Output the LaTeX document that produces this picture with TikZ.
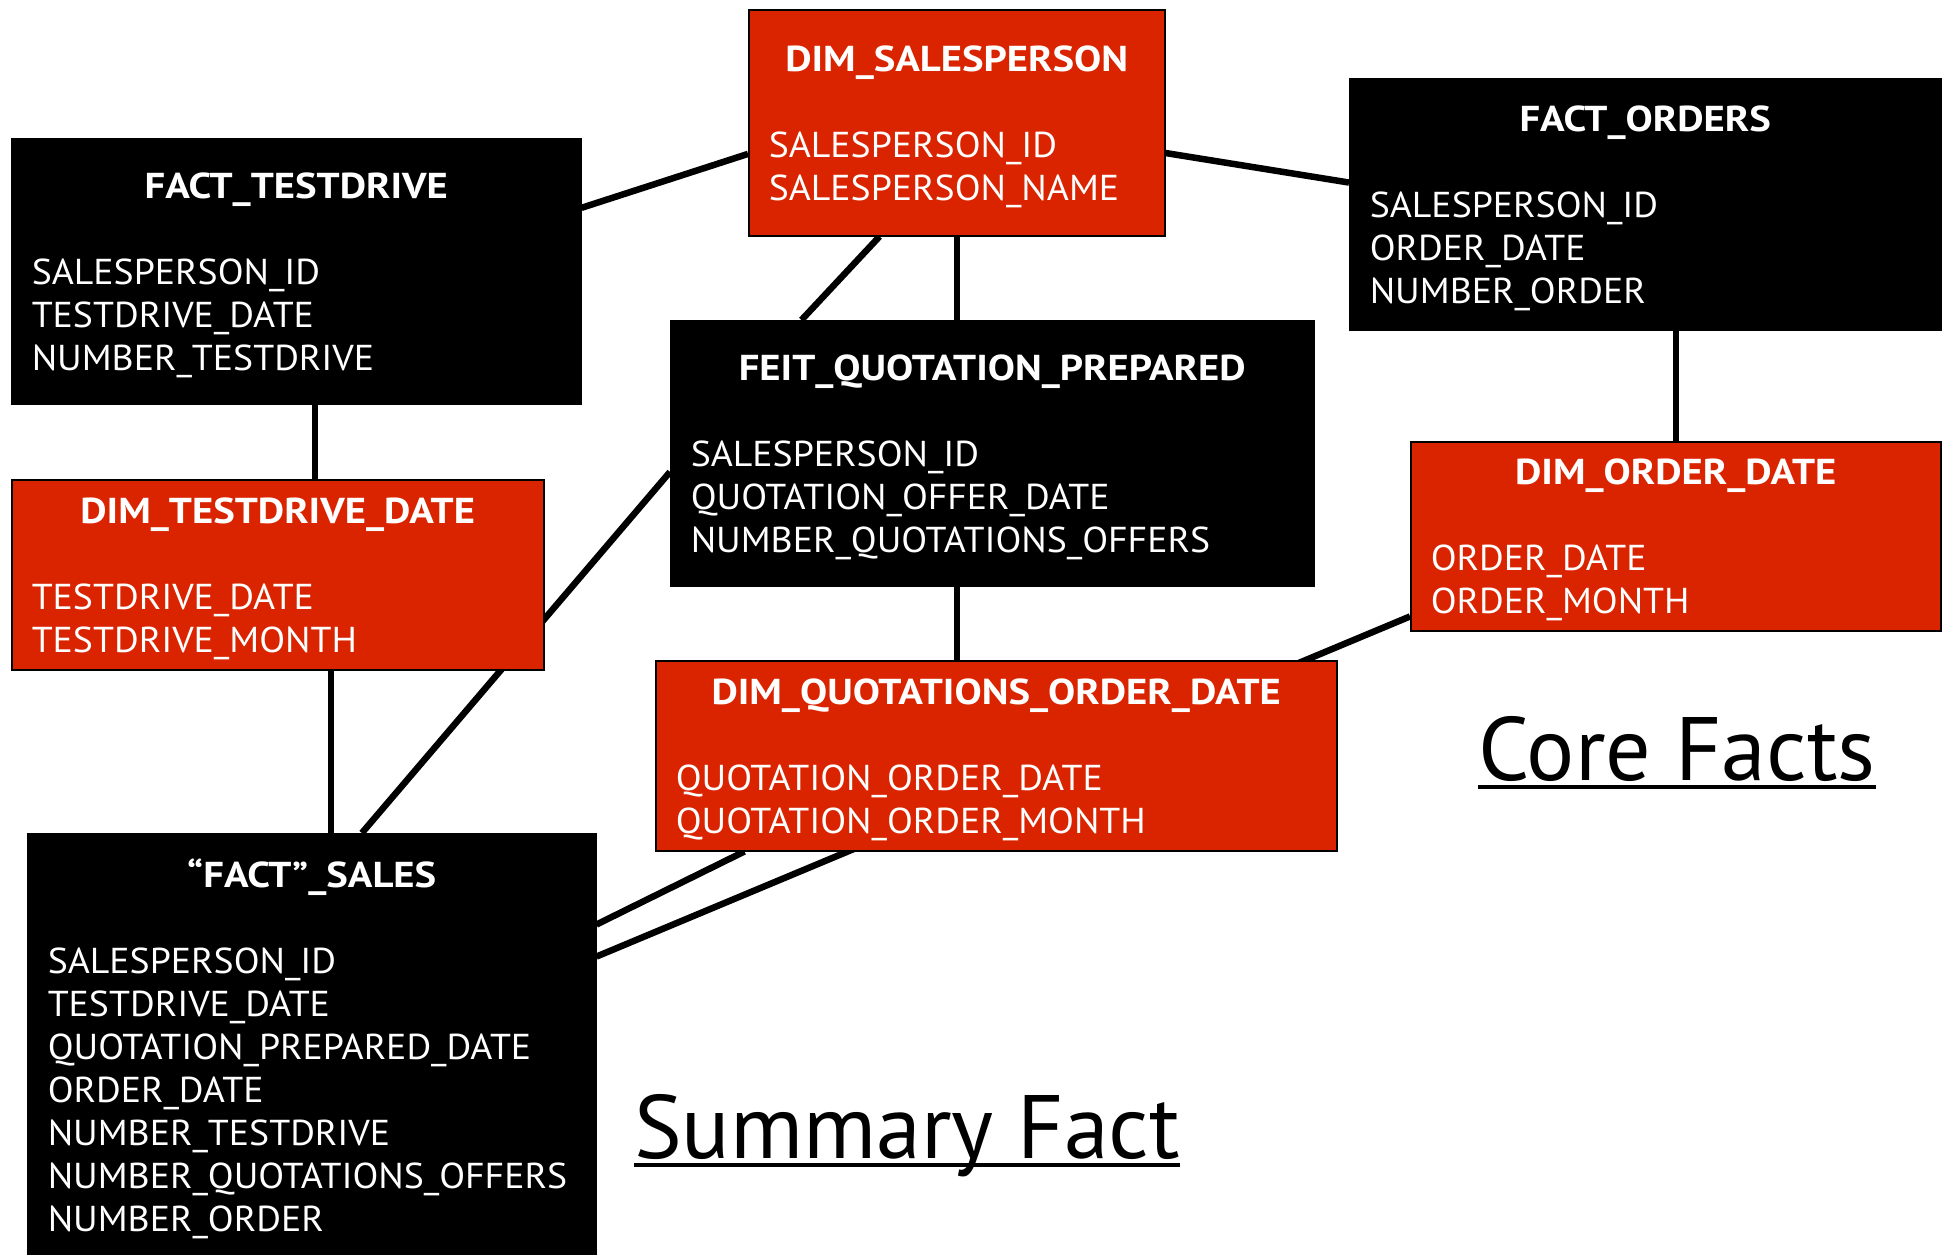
\documentclass[tikz,border=0pt]{standalone}
\usepackage{fontspec}
\setmainfont{PT Sans}[FakeStretch=1.05, BoldFeatures={FakeStretch=1.13}]
\newfontfamily\areafont{PT Sans}
\usetikzlibrary{calc,backgrounds}
\definecolor{dimred}{RGB}{218,36,0}
\newcommand\etitle[1]{\makebox[\linewidth]{\rule{0pt}{33pt}\bfseries #1}}

\begin{document}
\begin{tikzpicture}[
  x=1pt, y=-1pt,
  entity/.style={draw=black, line width=1.5pt, text=white, anchor=north west,
    inner xsep=20pt, inner ysep=0pt, align=left,
    font=\fontsize{36}{43}\selectfont},
  factbox/.style={entity, fill=black},
  dimbox/.style={entity, fill=dimred},
  link/.style={line width=6.5pt},
  areatitle/.style={inner sep=0pt, anchor=base, font=\areafont\fontsize{90}{100}\selectfont}
]
\clip (0,0) rectangle (1952,1254);

% tables
\node[dimbox, text width=376pt, minimum height=226pt] (sp) at (748,9)
  {\etitle{DIM\_SALESPERSON}\\[43pt] SALESPERSON\_ID\\ SALESPERSON\_NAME};
\node[factbox, text width=529pt, minimum height=265pt] (td) at (11,138)
  {\etitle{FACT\_TESTDRIVE}\\[43pt] SALESPERSON\_ID\\ TESTDRIVE\_DATE\\ NUMBER\_TESTDRIVE};
\node[factbox, text width=551pt, minimum height=251pt] (fo) at (1349,78)
  {\etitle{FACT\_ORDERS}\\[43pt] SALESPERSON\_ID\\ ORDER\_DATE\\ NUMBER\_ORDER};
\node[factbox, text width=603pt, minimum height=265pt] (qp) at (670,320)
  {\etitle{FEIT\_QUOTATION\_PREPARED}\\[43pt] SALESPERSON\_ID\\ QUOTATION\_OFFER\_DATE\\ NUMBER\_QUOTATIONS\_OFFERS};
\node[dimbox, text width=492pt, minimum height=190pt] (tdd) at (11,479)
  {\etitle{DIM\_TESTDRIVE\_DATE}\\[43pt] TESTDRIVE\_DATE\\ TESTDRIVE\_MONTH};
\node[dimbox, text width=490pt, minimum height=189pt] (od) at (1410,441)
  {\etitle{DIM\_ORDER\_DATE}\\[43pt] ORDER\_DATE\\ ORDER\_MONTH};
\node[dimbox, text width=641pt, minimum height=190pt] (qod) at (655,660)
  {\etitle{DIM\_QUOTATIONS\_ORDER\_DATE}\\[43pt] QUOTATION\_ORDER\_DATE\\ QUOTATION\_ORDER\_MONTH};
\node[factbox, text width=528pt, minimum height=426pt] (fs) at (27,833)
  {\etitle{“FACT”\_SALES}\\[43pt] SALESPERSON\_ID\\ TESTDRIVE\_DATE\\ QUOTATION\_PREPARED\_DATE\\
   ORDER\_DATE\\ NUMBER\_TESTDRIVE\\ NUMBER\_QUOTATIONS\_OFFERS\\ NUMBER\_ORDER};

% area titles
\node[areatitle] (core) at (1677,780) {Core Facts};
\node[areatitle] (summary) at (907,1158) {Summary Fact};
\draw[line width=4pt] ([yshift=-7pt]core.base west) -- ([yshift=-7pt]core.base east);
\draw[line width=4pt] ([yshift=-7pt]summary.base west) -- ([yshift=-7pt]summary.base east);

% links
\coordinate (tdlink) at ($(td.south west)!0.533!(td.south east)$);
\coordinate (tddlink) at ($(tdd.south west)!0.6!(tdd.south east)$);
\begin{scope}[on background layer]
  \fill[white] (0,0) rectangle (1952,1254);
  \draw[link] ($(td.north east)!0.262!(td.south east)$) -- ($(sp.north west)!0.637!(sp.south west)$);
  \draw[link] ($(sp.north east)!0.633!(sp.south east)$) -- ($(fo.north west)!0.414!(fo.south west)$);
  \draw[link] ($(sp.south west)!0.315!(sp.south east)$) -- ($(qp.north west)!0.204!(qp.north east)$);
  \draw[link] (sp.south) -- (sp.south |- qp.north);
  \draw[link] (tdlink) -- (tdlink |- tdd.north);
  \draw[link] (od.north) -- (od.north |- fo.south);
  \draw[link] (qp.south -| sp.south) -- (qod.north -| sp.south);
  \draw[link] ($(qp.north west)!0.57!(qp.south west)$) -- ($(fs.north west)!0.588!(fs.north east)$);
  \draw[link] (tddlink) -- (tddlink |- fs.north);
  \draw[link] ($(qod.south west)!0.131!(qod.south east)$) -- ($(fs.north east)!0.214!(fs.south east)$);
  \draw[link] ($(od.north west)!0.921!(od.south west)$) -- ($(fs.north east)!0.289!(fs.south east)$);
\end{scope}
\end{tikzpicture}
\end{document}
